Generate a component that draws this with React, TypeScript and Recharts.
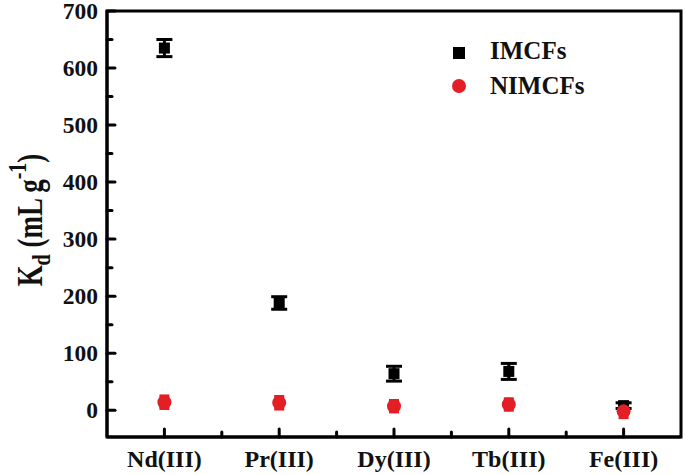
import React from "react";
import { ScatterChart, Scatter, XAxis, YAxis, ErrorBar, ReferenceArea } from "recharts";

// ─── data ────────────────────────────────────────────────────────────────────
const categories = ["Nd(III)", "Pr(III)", "Dy(III)", "Tb(III)", "Fe(III)"];
const imcfValues = [635, 188, 64, 68, 8];
const imcfErrors = [15, 11, 13, 14, 5];
const nimcfValues = [14, 13, 7, 10, -2];
const nimcfErrors = [11, 11, 10, 10, 11];

const xTicks = [1, 1.5, 2, 2.5, 3, 3.5, 4, 4.5, 5];
const yTicks = [0, 50, 100, 150, 200, 250, 300, 350, 400, 450, 500, 550, 600, 650, 700];

const RED = "#e31e24";
const FONT = "'Liberation Serif', 'Times New Roman', serif";

const imcfData = categories.map((c, i) => ({ x: i + 1, y: imcfValues[i], err: imcfErrors[i] }));
const nimcfData = categories.map((c, i) => ({ x: i + 1, y: nimcfValues[i], err: nimcfErrors[i] }));

function XTick(props: any) {
  const { x, y, payload } = props;
  const v = payload.value as number;
  const major = Number.isInteger(v);
  return (
    <g>
      <line x1={x} x2={x} y1={y} y2={y - (major ? 8 : 5)} stroke="#000" strokeWidth={3} strokeLinecap="round" />
      {major && (
        <text x={x} y={y + 30} textAnchor="middle" fontFamily={FONT} fontWeight="bold" fontSize={24} fill="#111">
          {categories[v - 1]}
        </text>
      )}
    </g>
  );
}

function YTick(props: any) {
  const { x, y, payload } = props;
  const v = payload.value as number;
  const major = v % 100 === 0;
  return (
    <g>
      <line x1={x} x2={x + (major ? 8 : 5)} y1={y} y2={y} stroke="#000" strokeWidth={3} strokeLinecap="round" />
      {major && (
        <text x={x - 9} y={y + 7.5} textAnchor="end" fontFamily={FONT} fontWeight="bold" fontSize={23.5} fill="#111">
          {v}
        </text>
      )}
    </g>
  );
}

function SquareDot(props: any) {
  const { cx, cy } = props;
  return <rect x={cx - 5.5} y={cy - 5.5} width={11} height={11} fill="#000" />;
}

function RedDot(props: any) {
  const { cx, cy } = props;
  return <circle cx={cx} cy={cy} r={7} fill={RED} />;
}

function YLabel() {
  return (
    <text
      transform="translate(42, 220) rotate(-90) scale(1, 1.3)"
      textAnchor="middle"
      fontFamily={FONT}
      fontWeight="bold"
      fontSize={27}
      fill="#111"
    >
      K
      <tspan fontSize={20} dy={6}>d</tspan>
      <tspan dy={-6}> (mL g</tspan>
      <tspan fontSize={20} dy={-12}>-1</tspan>
      <tspan dy={12}>)</tspan>
    </text>
  );
}

function LegendBox() {
  const labelStyle: React.CSSProperties = {
    position: "absolute",
    left: 490,
    fontFamily: FONT,
    fontWeight: "bold",
    fontSize: 25,
    color: "#111",
    lineHeight: "25px",
  };
  return (
    <>
      <div style={{ position: "absolute", left: 453, top: 47, width: 12, height: 12, background: "#000" }} />
      <div style={{ ...labelStyle, top: 38 }}>IMCFs</div>
      <div style={{ position: "absolute", left: 452, top: 79, width: 14, height: 14, borderRadius: 7, background: RED }} />
      <div style={{ ...labelStyle, top: 73 }}>NIMCFs</div>
    </>
  );
}

export default function App() {
  return (
    <div style={{ position: "absolute", left: 0, top: 0, width: 685, height: 475, background: "#fff" }}>
      <ScatterChart width={685} height={475} margin={{ top: 11, right: 4, bottom: 0, left: 0 }} style={{ overflow: "visible" }}>
        <XAxis
          type="number"
          dataKey="x"
          domain={[0.5, 5.5]}
          ticks={xTicks}
          interval={0}
          height={38}
          tickSize={0}
          tickMargin={0}
          tickLine={false}
          tick={<XTick />}
          axisLine={{ stroke: "#000", strokeWidth: 3 }}
          allowDataOverflow
        />
        <YAxis
          type="number"
          dataKey="y"
          domain={[-47, 700]}
          ticks={yTicks}
          interval={0}
          width={107}
          tickSize={0}
          tickMargin={0}
          tickLine={false}
          tick={<YTick />}
          axisLine={{ stroke: "#000", strokeWidth: 3 }}
          allowDataOverflow
          label={<YLabel />}
        />
        <ReferenceArea
          x1={0.5}
          x2={5.5}
          y1={-47}
          y2={700}
          fill="none"
          stroke="#000"
          strokeWidth={3}
          ifOverflow="visible"
        />
        <Scatter name="IMCFs" data={imcfData} shape={<SquareDot />} isAnimationActive={false}>
          <ErrorBar dataKey="err" direction="y" width={8} stroke="#000" strokeWidth={3} isAnimationActive={false} />
        </Scatter>
        <Scatter name="NIMCFs" data={nimcfData} shape={<RedDot />} isAnimationActive={false}>
          <ErrorBar dataKey="err" direction="y" width={5} stroke={RED} strokeWidth={3} isAnimationActive={false} />
        </Scatter>
      </ScatterChart>
      <LegendBox />
    </div>
  );
}
